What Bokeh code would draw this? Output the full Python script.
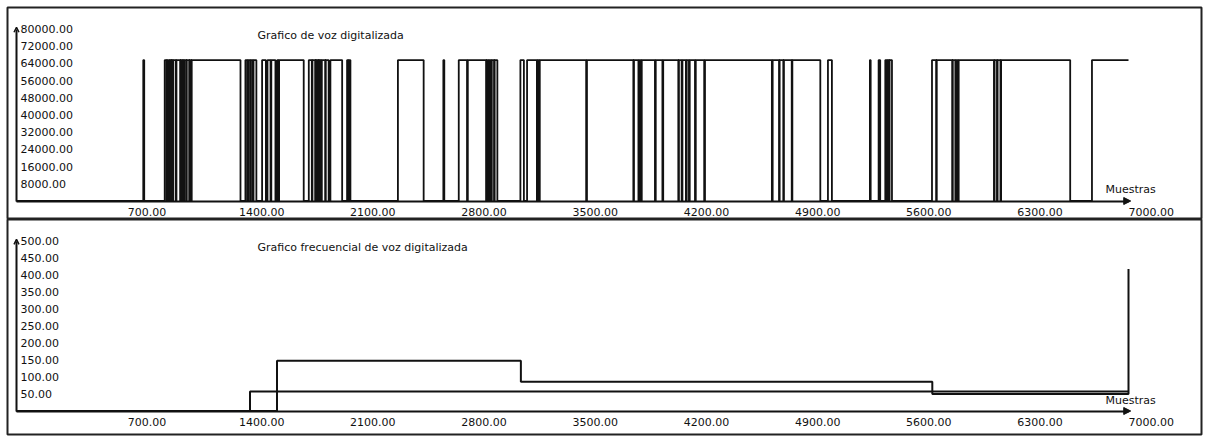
from bokeh.plotting import figure
from bokeh.layouts import column
from bokeh.models import (Range1d, LinearAxis, FixedTicker, NumeralTickFormatter,
                          Arrow, NormalHead, OpenHead, Label)
from bokeh.embed import file_html
from bokeh.resources import INLINE

# ---------------- data ----------------
N_SAMPLES = 7000
VOICE_LEVEL = 65535
# digitised voice: sample index where the signal rises / falls (0 <-> 65535)
voice_rise = [798, 933, 949, 958, 968, 977, 987, 1007, 1034, 1045, 1056, 1072, 1091, 1103,
              1441, 1458, 1475, 1492, 1546, 1580, 1604, 1641, 1653,
              1840, 1863, 1884, 1893, 1903, 1912, 1922, 1947, 1976, 2081, 2092,
              2401, 2687, 2784, 2841, 2960, 2976, 2992, 3010, 3172,
              3214, 3281, 3294, 3591, 3887, 3920, 3936, 4024, 4071, 4170, 4192, 4219,
              4238, 4276, 4334, 4760, 4804, 4831, 4884, 5108, 5372, 5427,
              5469, 5484, 5496, 5763, 5793, 5894, 5915, 5931, 6157, 6176, 6198, 6770]
voice_fall = [804, 945, 955, 964, 973, 983, 1003, 1030, 1041, 1052, 1068, 1087, 1099, 1410,
              1453, 1470, 1487, 1510, 1570, 1599, 1630, 1648, 1808,
              1859, 1880, 1889, 1899, 1908, 1917, 1943, 1965, 2050, 2087, 2102,
              2563, 2693, 2836, 2956, 2971, 2987, 3006, 3027, 3194,
              3276, 3289, 3586, 3883, 3915, 3931, 4019, 4066, 4166, 4187, 4214, 4233,
              4271, 4329, 4755, 4800, 4827, 4880, 5060, 5133, 5377, 5437,
              5479, 5492, 5511, 5789, 5890, 5910, 5926, 6153, 6172, 6194, 6633, 7000]

# frequency graph: two step series
freq_a_x = [0, 1470, 7000]
freq_a_y = [0, 57, 57]
freq_b_x = [0, 1640, 3175, 5765, 7000, 7000]
freq_b_y = [0, 148, 86, 50, 50, 418]

x_ticks = [700, 1400, 2100, 2800, 3500, 4200, 4900, 5600, 6300, 7000]
voice_ticks = [8000, 16000, 24000, 32000, 40000, 48000, 56000, 64000, 72000, 80000]
freq_ticks = [50, 100, 150, 200, 250, 300, 350, 400, 450, 500]

title_voice = "Grafico de voz digitalizada"
title_freq = "Grafico frecuencial de voz digitalizada"
x_name = "Muestras"

# ---------------- step path for the voice ----------------
vx = [0]
vy = [0]
for r, f in zip(voice_rise, voice_fall):
    vx.append(r); vy.append(VOICE_LEVEL)
    vx.append(f); vy.append(VOICE_LEVEL if f >= N_SAMPLES else 0)

FONT = "DejaVu Sans"
INK = "#111111"
W = 1203
# page-pixel layout
X0_PAGE, X1_PAGE = 16, 1128          # where sample 0 and 7000 fall
FR_LEFT, FR_RIGHT = 7, 1201          # panel box
xscale = (X1_PAGE - X0_PAGE) / N_SAMPLES
x_start = (FR_LEFT - X0_PAGE) / xscale
x_end = (FR_RIGHT - X0_PAGE) / xscale


def make_fig(fig_top, height, fr_top, fr_bottom, base, top_tick, ymax, ticks):
    yscale = (base - top_tick) / ymax
    y_end = (base - fr_top) / yscale
    y_start = -(fr_bottom - base) / yscale
    p = figure(width=W, height=height, output_backend="svg", toolbar_location=None,
               x_range=Range1d(x_start, x_end), y_range=Range1d(y_start, y_end),
               x_axis_type=None, y_axis_type=None,
               min_border_left=FR_LEFT, min_border_right=W - FR_RIGHT,
               min_border_top=fr_top - fig_top,
               min_border_bottom=fig_top + height - fr_bottom)
    p.outline_line_color = "#222222"
    p.outline_line_width = 2
    p.background_fill_color = "white"
    p.border_fill_color = "white"

    xa = LinearAxis(fixed_location=0, ticker=FixedTicker(ticks=x_ticks),
                    formatter=NumeralTickFormatter(format="0.00"), bounds=(0, N_SAMPLES))
    xa.axis_line_width = 2
    xa.axis_line_color = INK
    xa.major_tick_out = 0
    xa.major_tick_in = 0
    xa.minor_tick_line_color = None
    xa.major_label_orientation = -1e-9
    xa.major_label_standoff = 11
    xa.major_label_text_font = FONT
    xa.major_label_text_font_size = "11px"
    xa.major_label_text_color = INK
    p.add_layout(xa, "below")

    ya = LinearAxis(fixed_location=0, ticker=FixedTicker(ticks=ticks),
                    formatter=NumeralTickFormatter(format="0.00"), bounds=(0, ymax))
    ya.axis_line_width = 2
    ya.axis_line_color = INK
    ya.major_tick_out = 0
    ya.major_tick_in = 0
    ya.minor_tick_line_color = None
    ya.major_label_standoff = 4
    ya.major_label_text_font = FONT
    ya.major_label_text_font_size = "11px"
    ya.major_label_text_color = INK
    p.add_layout(ya, "right")

    p.add_layout(Arrow(end=OpenHead(size=5, line_width=1.5, line_color=INK),
                       x_start=0, y_start=ymax * 0.999, x_end=0, y_end=ymax * 1.01,
                       line_color=INK, line_width=2))
    p.add_layout(Arrow(end=NormalHead(size=7, fill_color=INK, line_color=INK),
                       x_start=N_SAMPLES * 0.999, y_start=0, x_end=N_SAMPLES * 1.002, y_end=0,
                       line_color=INK, line_width=2))

    def y_at(page_y):
        return (base - page_y) / yscale

    return p, y_at


def x_at(page_x):
    return (page_x - X0_PAGE) / xscale


# ---------------- top panel ----------------
p1, y1 = make_fig(0, 219, 7, 219, 200.5, 28.5, 80000, voice_ticks)
p1.step(vx, vy, mode="after", line_color=INK, line_width=1.8)
p1.add_layout(Label(x=x_at(257), y=y1(35), text=title_voice, text_font=FONT,
                    text_font_size="11px", text_baseline="middle", text_color=INK))
p1.add_layout(Label(x=x_at(1105), y=y1(189), text=x_name, text_font=FONT,
                    text_font_size="11px", text_baseline="middle", text_color=INK))

# ---------------- bottom panel ----------------
p2, y2 = make_fig(219, 219, 219, 434, 410.5, 240.5, 500, freq_ticks)
p2.step(freq_a_x, freq_a_y, mode="after", line_color=INK, line_width=2)
p2.step(freq_b_x, freq_b_y, mode="after", line_color=INK, line_width=2)
p2.add_layout(Label(x=x_at(257), y=y2(247), text=title_freq, text_font=FONT,
                    text_font_size="11px", text_baseline="middle", text_color=INK))
p2.add_layout(Label(x=x_at(1105), y=y2(400), text=x_name, text_font=FONT,
                    text_font_size="11px", text_baseline="middle", text_color=INK))

layout = column(p1, p2, spacing=0)
open("out.html", "w").write(file_html(layout, INLINE))
